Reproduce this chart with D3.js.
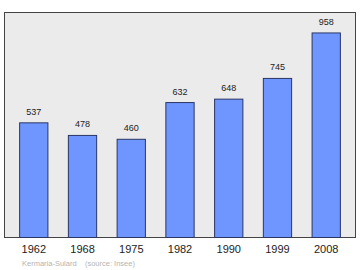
<!DOCTYPE html>
<html>
<head>
<meta charset="utf-8">
<script src="https://cdn.jsdelivr.net/npm/d3@7"></script>
<style>
  body { margin: 0; background: #fff; }
  svg { display: block; font-family: "Liberation Sans", Arial, sans-serif; }
</style>
</head>
<body>
<svg id="chart" width="360" height="270"></svg>
<script>
var years = ["1962", "1968", "1975", "1982", "1990", "1999", "2008"];
var population = [537, 478, 460, 632, 648, 745, 958];
var commune = "Kermaria-Sulard";
var source = "(source: Insee)";

var svg = d3.select("#chart"),
    width = +svg.attr("width"),
    height = +svg.attr("height");

var frame = {left: 4.5, top: 12.5, right: 355.5, bottom: 237.5};

var x = d3.scaleBand()
    .domain(years)
    .range([frame.left + 1, frame.right - 1])
    .paddingInner(0.42)
    .paddingOuter(0.29);

var y = d3.scaleLinear()
    .domain([0, d3.max(population) * 1.1])
    .range([frame.bottom, frame.top]);

// background panel
svg.append("rect")
    .attr("x", frame.left)
    .attr("y", frame.top)
    .attr("width", frame.right - frame.left)
    .attr("height", frame.bottom - frame.top)
    .attr("fill", "#ebebeb")
    .attr("stroke", "#444")
    .attr("stroke-width", 1);

var data = years.map(function(d, i) { return {year: d, value: population[i]}; });

svg.append("g").selectAll("rect")
    .data(data)
    .enter().append("rect")
    .attr("x", function(d) { return x(d.year); })
    .attr("y", function(d) { return y(d.value); })
    .attr("width", x.bandwidth())
    .attr("height", function(d) { return frame.bottom - y(d.value); })
    .attr("fill", "#6f96ff")
    .attr("stroke", "#2a3566")
    .attr("stroke-width", 1);

svg.append("g").selectAll("text")
    .data(data)
    .enter().append("text")
    .attr("x", function(d) { return x(d.year) + x.bandwidth() / 2; })
    .attr("y", function(d) { return y(d.value) - 8; })
    .attr("text-anchor", "middle")
    .attr("font-size", "9px")
    .attr("fill", "#222")
    .text(function(d) { return d.value; });

// year axis
var axis = svg.append("g")
    .attr("transform", "translate(0," + frame.bottom + ")")
    .call(d3.axisBottom(x).tickSize(0).tickPadding(8));
axis.select(".domain").remove();
axis.selectAll("text")
    .attr("font-size", "11px")
    .attr("fill", "#222")
    .attr("font-family", "Liberation Sans, Arial, sans-serif");

svg.append("text")
    .attr("x", 22)
    .attr("y", 265.5)
    .attr("font-size", "7.5px")
    .attr("fill", "#b4b4b4")
    .attr("xml:space", "preserve")
    .text(commune + "    " + source);
</script>
</body>
</html>
